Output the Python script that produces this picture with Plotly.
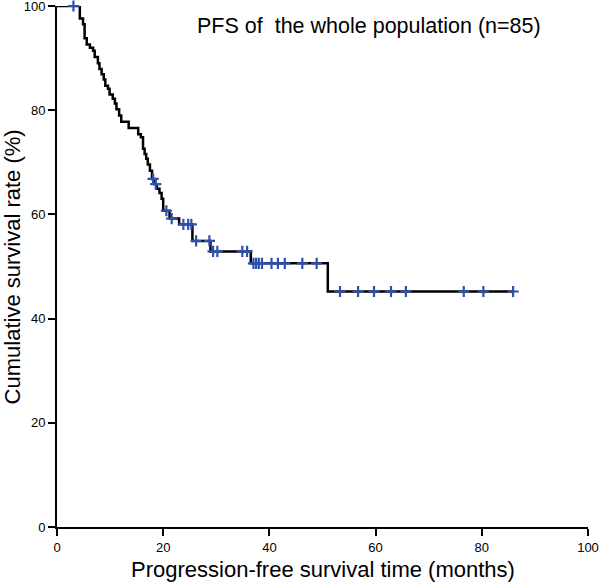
import numpy as np
import plotly.graph_objects as go

# Kaplan-Meier step vertices (time in months, survival %)
step_times = [0, 4.3, 4.9, 5.2, 5.6, 6.2, 6.8, 7.1, 7.7, 8.0, 8.4, 8.8, 9.1, 9.6, 9.9,
              10.5, 10.9, 11.2, 11.7, 12.1, 13.5, 15.3, 15.8, 16.2, 16.5, 16.8, 17.1,
              17.5, 17.9, 18.4, 18.8, 19.3, 19.7, 20.0, 21.2, 23.0, 25.5, 28.9, 36.5,
              51.0, 86.0]
step_surv = [100, 97.6, 96.5, 93.8, 92.6, 92.0, 91.4, 90.2, 89.0, 87.9, 86.9, 85.9, 84.7,
             84.1, 83.0, 82.2, 81.3, 80.2, 79.0, 77.8, 76.6, 75.4, 74.8, 72.6, 71.6, 70.7,
             69.6, 68.4, 66.8, 65.8, 64.9, 64.1, 63.0, 60.7, 59.2, 58.1, 54.9, 52.9, 50.6,
             45.2, 45.2]

# censored observations (months)
censor_times = [3.1, 18.1, 18.6, 20.6, 21.6, 23.8, 24.7, 25.3, 26.2, 28.7, 29.4, 30.2,
                34.9, 35.8, 37.0, 37.5, 38.0, 38.6, 40.4, 41.6, 42.9, 46.2, 48.9, 53.3,
                56.7, 59.7, 62.9, 65.7, 76.6, 80.3, 85.9]

x_ticks = [0, 20, 40, 60, 80, 100]
y_ticks = [0, 20, 40, 60, 80, 100]

title_text = "PFS of\u00a0 the whole population (n=85)"
x_title = "Progression-free survival time (months)"
y_title = "Cumulative survival rate (%)"

st = np.array(step_times)
ss = np.array(step_surv)
ct = np.array(censor_times)
idx = np.searchsorted(st, ct, side="right") - 1
censor_surv = ss[idx]

font_family = "Arial, Liberation Sans, sans-serif"

fig = go.Figure()
fig.add_trace(go.Scatter(
    x=step_times, y=step_surv, mode="lines",
    line=dict(color="black", width=2.5, shape="hv"),
    cliponaxis=False, showlegend=False, hoverinfo="skip"))
fig.add_trace(go.Scatter(
    x=censor_times, y=censor_surv, mode="markers",
    marker=dict(symbol="cross-thin", size=8, color="#3050b0",
                line=dict(color="#3050b0", width=2.2)),
    cliponaxis=False, showlegend=False))

axis_common = dict(
    showline=True, linecolor="black", linewidth=2,
    ticks="outside", ticklen=7, tickwidth=1.5, tickcolor="black",
    showgrid=False, zeroline=False, ticklabeloverflow="allow",
    tickfont=dict(family=font_family, size=13, color="black"),
)
fig.update_xaxes(range=[0, 100], tickvals=x_ticks, **axis_common)
fig.update_yaxes(range=[0, 100], tickvals=y_ticks, **axis_common)

fig.update_layout(
    width=600, height=583,
    margin=dict(l=57, r=12, t=6, b=56, autoexpand=False),
    plot_bgcolor="white", paper_bgcolor="white",
    annotations=[
        dict(text=title_text, xref="paper", yref="paper", x=0.587, y=0.961,
             xanchor="center", yanchor="middle", showarrow=False,
             font=dict(family=font_family, size=21.5, color="black")),
        dict(text=x_title, xref="paper", yref="paper", x=0.5, y=-0.081,
             xanchor="center", yanchor="middle", showarrow=False,
             font=dict(family=font_family, size=22, color="black")),
        dict(text=y_title, xref="paper", yref="paper", x=-0.083, y=0.5,
             xanchor="center", yanchor="middle", showarrow=False, textangle=-90,
             font=dict(family=font_family, size=22, color="black")),
    ],
)

fig.write_html("out.html", config={"displayModeBar": False},
               post_script="document.body.style.margin='0';")
